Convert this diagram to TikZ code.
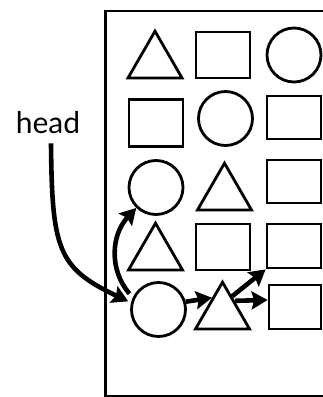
\documentclass[tikz,border=0pt]{standalone}
\usepackage{fontspec}
\setmainfont{Lato}
\usetikzlibrary{shapes.geometric,arrows.meta,calc}
\begin{document}
\begin{tikzpicture}[x=1pt,y=-1pt,
  shp/.style={draw, line width=2.8pt, inner sep=0pt},
  sq/.style={shp, rectangle, minimum width=54pt},
  cir/.style={shp, circle, minimum size=54pt},
  tri/.style={shp, regular polygon, regular polygon sides=3, minimum size=62.4pt},
  arr/.style={line width=4.6pt, -{Stealth[length=16pt,width=18pt,inset=2.5pt]}},
  lbl/.style={font=\fontsize{30}{30}\selectfont, anchor=base, inner sep=0pt}]
\useasboundingbox (0,0) rectangle (323,397);
\draw[line width=2.6pt] (105.7,11) rectangle (340,396.3);
% row 1
\node[tri] (T11) at (155,62.4) {};
\node[sq, minimum height=46pt] (R12) at (223,55) {};
\node[cir] (C13) at (294,55) {};
% row 2
\node[sq, minimum height=47pt] (R21) at (156,123) {};
\node[cir] (C22) at (225.5,118.5) {};
\node[sq, minimum height=43pt] (R23) at (294,117.5) {};
% row 3
\node[cir] (C31) at (156,187.5) {};
\node[tri] (T32) at (224.5,194.4) {};
\node[sq, minimum height=43pt] (R33) at (294,181.5) {};
% row 4
\node[tri] (T41) at (155.5,254.4) {};
\node[sq, minimum height=46pt] (R42) at (223,247) {};
\node[sq, minimum height=44pt] (R43) at (294,246) {};
% row 5
\node[cir] (C51) at (158.5,309.5) {};
\node[tri] (T52) at (222.5,313.4) {};
\node[sq, minimum width=52pt, minimum height=44pt] (R53) at (295,307) {};
% label
\node[lbl] (head) at (48,133) {head};
% connectors
\draw[arr, shorten >=3pt] ($(head.south)+(3,10)$) .. controls (52,250) and (58,268) .. (C51.166);
\draw[arr, shorten <=5pt] (C51.155) .. controls (109,270) and (111,235) .. (C31.226);
\draw[arr] (C51.16) -- ($(T52.corner 1)!0.36!(T52.corner 2)$);
\draw[arr] ($(T52.corner 1)!0.33!(T52.corner 3)$) -- (R43.south west);
\draw[arr] ($(T52.corner 1)!0.42!(T52.corner 3)$) -- ($(R53.north west)!0.35!(R53.south west)$);
\end{tikzpicture}
\end{document}
